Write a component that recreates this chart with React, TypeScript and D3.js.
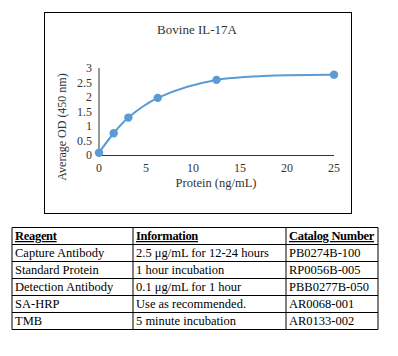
import React from "react";
import * as d3 from "d3";

const concentrations = [0, 1.5625, 3.125, 6.25, 12.5, 25];
const odValues = [0.08, 0.75, 1.29, 1.97, 2.59, 2.77];
const xTicks = [0, 5, 10, 15, 20, 25];
const yTicks = [0, 0.5, 1, 1.5, 2, 2.5, 3];
const chartTitle = "Bovine IL-17A";
const xTitle = "Protein (ng/mL)";
const yTitle = "Average OD (450 nm)";
const tableHeader = ["Reagent", "Information", "Catalog Number"];
const reagents = ["Capture Antibody", "Standard Protein", "Detection Antibody", "SA-HRP", "TMB"];
const information = [
  "2.5 μg/mL for 12-24 hours",
  "1 hour incubation",
  "0.1 μg/mL for 1 hour",
  "Use as recommended.",
  "5 minute incubation",
];
const catalogNumbers = ["PB0274B-100", "RP0056B-005", "PBB0277B-050", "AR0068-001", "AR0133-002"];

const FONT = "'Liberation Serif', 'DejaVu Serif', serif";

export default function App() {
  const W = 398, H = 356;
  const x = d3.scaleLinear().domain([0, 25]).range([99, 334]);
  const y = d3.scaleLinear().domain([0, 3]).range([155, 68]);
  const pts: [number, number][] = concentrations.map((c, i) => [x(c), y(odValues[i])]);
  const line = d3.line().curve(d3.curveCatmullRom.alpha(0.5))(pts) || "";

  const colX = [12, 133, 286, 378];
  const rowTop = 227.5;
  const rowH = 17;
  const rows = [tableHeader, ...reagents.map((r, i) => [r, information[i], catalogNumbers[i]])];
  const tableBottom = rowTop + rowH * rows.length;

  return (
    <svg width={W} height={H} style={{ position: "absolute", left: 0, top: 0, background: "#fff" }}>
      <rect x={0} y={0} width={W} height={H} fill="#fff" />
      <rect x={44.5} y={12.5} width={307} height={201} fill="#fff" stroke="#000" strokeWidth={1} />
      <text x={197} y={34} textAnchor="middle" fontFamily={FONT} fontSize={13} fill="#333">
        {chartTitle}
      </text>
      <line x1={x(0)} x2={x(0)} y1={y(3)} y2={y(0)} stroke="#333" strokeWidth={1} />
      <line x1={x(0)} x2={x(25)} y1={y(0) + 0.5} y2={y(0) + 0.5} stroke="#333" strokeWidth={1} />
      {yTicks.map((t) => (
        <text key={t} x={92} y={y(t) + 4} textAnchor="end" fontFamily={FONT} fontSize={12} fill="#333">
          {t}
        </text>
      ))}
      {xTicks.map((t) => (
        <text key={t} x={x(t)} y={172} textAnchor="middle" fontFamily={FONT} fontSize={12} fill="#333">
          {t}
        </text>
      ))}
      <text x={216} y={187} textAnchor="middle" fontFamily={FONT} fontSize={12.5} fill="#333">
        {xTitle}
      </text>
      <text
        transform={`translate(66,127) rotate(-90)`}
        textAnchor="middle"
        fontFamily={FONT}
        fontSize={12}
        fill="#333"
      >
        {yTitle}
      </text>
      <path d={line} fill="none" stroke="#5B9BD5" strokeWidth={2} />
      {pts.map((p, i) => (
        <circle key={i} cx={p[0]} cy={p[1]} r={4.2} fill="#5B9BD5" />
      ))}
      {rows.map((r, ri) => (
        <g key={ri}>
          {r.map((cell, ci) => (
            <text
              key={ci}
              x={colX[ci] + 3}
              y={rowTop + rowH * ri + 12.5}
              fontFamily={FONT}
              fontSize={12.5}
              fill="#000"
              textDecoration={ri === 0 ? "underline" : undefined}
              fontWeight={ri === 0 ? 600 : undefined}
              letterSpacing={ri === 0 ? -0.3 : undefined}
            >
              {cell}
            </text>
          ))}
        </g>
      ))}
      {rows.map((_, ri) => (
        <line key={"h" + ri} x1={colX[0]} x2={colX[3]} y1={rowTop + rowH * ri} y2={rowTop + rowH * ri} stroke="#000" strokeWidth={1} />
      ))}
      <line x1={colX[0]} x2={colX[3]} y1={tableBottom} y2={tableBottom} stroke="#000" strokeWidth={1} />
      {colX.map((cx, i) => (
        <line key={"v" + i} x1={cx} x2={cx} y1={rowTop} y2={tableBottom} stroke="#000" strokeWidth={1} />
      ))}
    </svg>
  );
}
